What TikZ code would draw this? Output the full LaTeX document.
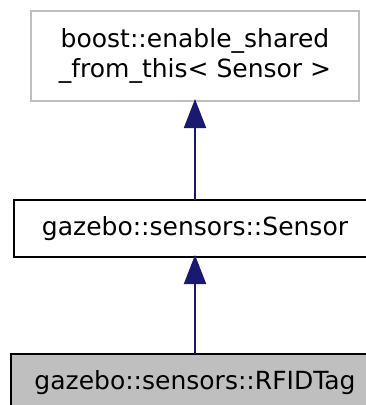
\documentclass[tikz,border=0pt]{standalone}
\usepackage{fontspec}
\setmainfont{DejaVu Sans}
\usepackage{xcolor}
\usetikzlibrary{arrows.meta, positioning}
\definecolor{edgeblue}{HTML}{191970}
\definecolor{basegray}{HTML}{BFBFBF}

\begin{document}
\begin{tikzpicture}[
  x=1pt, y=1pt,
  cls/.style={rectangle, draw=black, fill=white, line width=2pt, inner sep=0pt, outer sep=0pt,
    font=\fontsize{25}{30}\selectfont, align=center},
  extcls/.style={cls, draw=basegray},
  curcls/.style={cls, fill=basegray},
  inherit/.style={-{Triangle[length=29pt,width=22pt]}, line width=2pt, edgeblue, shorten >=-2pt}
]
\useasboundingbox (0,0) rectangle (366,-405);
\clip (0,0) rectangle (366,-405);

% Classes
\node[extcls, minimum width=328pt, minimum height=90pt] at (195,-56) (boost)
  {boost::enable\_shared\\\_from\_this< Sensor >};
\node[cls, minimum width=362pt, minimum height=57pt] at (195,-228.5) (sensor)
  {gazebo::sensors::Sensor};
\node[curcls, minimum width=368pt, minimum height=57pt] at (195,-382.5) (rfid)
  {gazebo::sensors::RFIDTag};

% Inheritance
\draw[inherit] (sensor.north) -- (boost.south);
\draw[inherit] (rfid.north) -- (sensor.south);

\end{tikzpicture}
\end{document}
